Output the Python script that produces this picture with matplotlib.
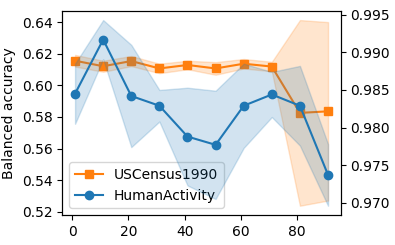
import numpy as np
import matplotlib
matplotlib.use("Agg")
import matplotlib.pyplot as plt

x = [1, 11, 21, 31, 41, 51, 61, 71, 81, 91]

# USCensus1990 (left axis)
census_mean = [0.6157, 0.6122, 0.6155, 0.6108, 0.6130, 0.6108, 0.6138, 0.6120, 0.5826, 0.5836]
census_err = [0.0037, 0.0035, 0.0032, 0.0030, 0.0027, 0.0040, 0.0030, 0.0030, 0.0589, 0.0566]

# HumanActivity (right axis)
human_mean = [0.9845, 0.9917, 0.9842, 0.9829, 0.9788, 0.9777, 0.9829, 0.9844, 0.9829, 0.9737]
human_err = [0.0040, 0.0026, 0.0068, 0.0021, 0.0065, 0.0072, 0.0056, 0.0030, 0.0053, 0.0041]

census_mean = np.array(census_mean)
census_err = np.array(census_err)
human_mean = np.array(human_mean)
human_err = np.array(human_err)

fig, ax = plt.subplots(figsize=(3.95, 2.45), dpi=100)
fig.subplots_adjust(left=0.158, right=0.8625, top=0.956, bottom=0.1224)

l1, = ax.plot(x, census_mean, marker="s", color="C1", label="USCensus1990")
ax.fill_between(x, census_mean - census_err, census_mean + census_err, color="C1", alpha=0.2)
ax.set_ylabel("Balanced accuracy")

ax2 = ax.twinx()
l2, = ax2.plot(x, human_mean, marker="o", color="C0", label="HumanActivity")
ax2.fill_between(x, human_mean - human_err, human_mean + human_err, color="C0", alpha=0.2)

ax.set_xticks([0, 20, 40, 60, 80])
ax.legend(handles=[l1, l2], loc="lower left")

fig.savefig("out.png", dpi=100)
